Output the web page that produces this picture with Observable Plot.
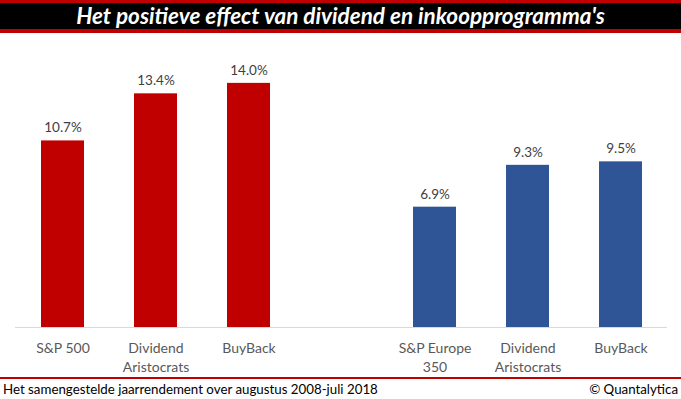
<!DOCTYPE html>
<html>
<head>
<meta charset="utf-8">
<script src="https://cdn.jsdelivr.net/npm/d3@7"></script>
<script src="https://cdn.jsdelivr.net/npm/@observablehq/plot@0.6"></script>
<style>
  html, body { margin: 0; padding: 0; background: #fff; }
  #wrap { width: 681px; height: 399px; position: relative; overflow: hidden; font-family: Lato, "Open Sans", sans-serif; }
  #title { box-sizing: border-box; width: 681px; height: 33px; background: #000; border-top: 3px solid #c00000; border-bottom: 4px solid #c00000;
           color: #fff; font: italic 700 22.5px Lato, sans-serif; text-align: center; line-height: 26px; }
  #chart { position: absolute; left: 0; top: 34px; }
  #footer { position: absolute; left: 0; top: 377px; width: 681px; height: 22px; border-top: 2px solid #c00000; box-sizing: border-box;
            font: 13.3px Lato, sans-serif; color: #000; }
  #footer .l { position: absolute; left: 3px; top: 2px; }
  #footer .r { position: absolute; right: 3px; top: 2px; }
</style>
</head>
<body>
<div id="wrap">
  <div id="title">Het positieve effect van dividend en inkoopprogramma's</div>
  <div id="chart"></div>
  <div id="footer"><span class="l">Het samengestelde jaarrendement over augustus 2008-juli 2018</span><span class="r">© Quantalytica</span></div>
</div>
<script>
const keys = ["us_sp", "us_div", "us_bb", "gap", "eu_sp", "eu_div", "eu_bb"];
const labels = ["S&P 500", "Dividend\nAristocrats", "BuyBack", "", "S&P Europe\n350", "Dividend\nAristocrats", "BuyBack"];
const regions = ["US", "US", "US", "", "EU", "EU", "EU"];
const values = [10.7, 13.4, 14.0, null, 6.9, 9.3, 9.5];

const data = keys.map((k, i) => ({key: k, label: labels[i], region: regions[i], value: values[i]})).filter(d => d.value != null);
const labelOf = new Map(keys.map((k, i) => [k, labels[i]]));

const chart = Plot.plot({
  width: 681,
  height: 342,
  marginLeft: 15,
  marginRight: 14,
  marginTop: 14,
  marginBottom: 49,
  style: {fontFamily: "Lato, 'Open Sans', sans-serif", background: "transparent"},
  x: {domain: keys, paddingInner: 0.54, paddingOuter: 0.27, axis: null},
  y: {domain: [0, 16], axis: null},
  color: {domain: ["US", "EU"], range: ["#c00000", "#2f5597"]},
  marks: [
    Plot.barY(data, {x: "key", y: "value", fill: "region"}),
    Plot.ruleY([0], {stroke: "#d9d9d9", strokeWidth: 1}),
    Plot.text(data, {x: "key", y: "value", text: d => d.value.toFixed(1) + "%", dy: -13, fontSize: 13.5, fill: "#404040"}),
    Plot.axisX({tickSize: 0, tickPadding: 13, fontSize: 14, lineHeight: 1.3, color: "#595959", tickFormat: k => labelOf.get(k), label: null})
  ]
});
document.getElementById("chart").appendChild(chart);
</script>
</body>
</html>
